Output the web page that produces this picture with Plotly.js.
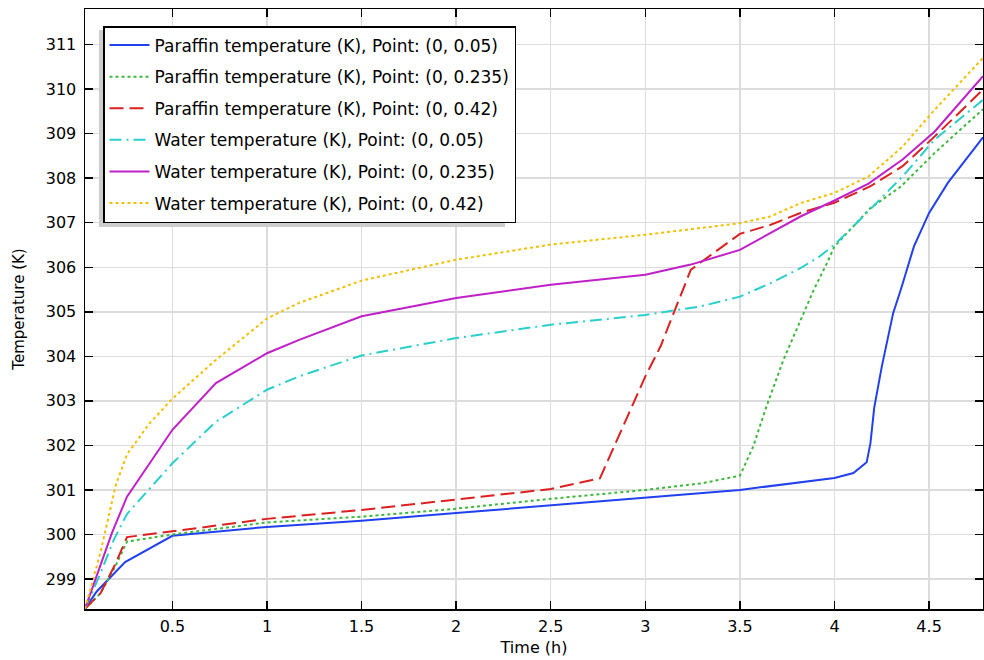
<!DOCTYPE html>
<html>
<head>
<meta charset="utf-8">
<script src="https://cdn.plot.ly/plotly-3.0.1.min.js"></script>
<style>html,body{margin:0;padding:0;background:#fff;}#chart{width:984px;height:660px;}</style>
</head>
<body>
<div id="chart"></div>
<script>
// Series names
const seriesNames = [
  "Paraffin temperature (K), Point: (0, 0.05)",
  "Paraffin temperature (K), Point: (0, 0.235)",
  "Paraffin temperature (K), Point: (0, 0.42)",
  "Water temperature (K), Point: (0, 0.05)",
  "Water temperature (K), Point: (0, 0.235)",
  "Water temperature (K), Point: (0, 0.42)"
];

// Paraffin (0, 0.05)
const tP005 = [0.038, 0.1, 0.25, 0.5, 1.0, 1.5, 2.0, 2.5, 3.0, 3.5, 4.0, 4.1, 4.17, 4.19, 4.21, 4.25, 4.31, 4.35, 4.42, 4.5, 4.6, 4.7, 4.785];
const TP005 = [298.33, 298.72, 299.38, 299.97, 300.17, 300.31, 300.48, 300.65, 300.82, 301.0, 301.27, 301.38, 301.62, 302.05, 302.85, 303.77, 304.97, 305.49, 306.47, 307.22, 307.9, 308.45, 308.92];

// Paraffin (0, 0.235)
const tP0235 = [0.038, 0.12, 0.2, 0.26, 0.5, 1.0, 1.5, 2.0, 2.5, 3.0, 3.3, 3.5, 3.57, 3.64, 3.73, 3.82, 3.89, 3.96, 4.0, 4.1, 4.19, 4.35, 4.53, 4.785];
const TP0235 = [298.33, 298.68, 299.3, 299.84, 300.0, 300.27, 300.4, 300.58, 300.8, 301.0, 301.15, 301.32, 301.97, 302.87, 303.92, 304.82, 305.49, 306.09, 306.47, 306.92, 307.33, 307.81, 308.57, 309.55];

// Paraffin (0, 0.42)
const tP042 = [0.038, 0.12, 0.2, 0.26, 0.5, 1.0, 1.5, 2.0, 2.5, 2.76, 2.86, 3.0, 3.08, 3.15, 3.24, 3.29, 3.36, 3.5, 3.66, 3.82, 4.0, 4.19, 4.36, 4.53, 4.785];
const TP042 = [298.33, 298.68, 299.35, 299.94, 300.07, 300.35, 300.55, 300.78, 301.02, 301.26, 302.2, 303.55, 304.22, 304.97, 305.94, 306.1, 306.32, 306.75, 306.95, 307.22, 307.45, 307.82, 308.27, 308.94, 309.99];

// Water (0, 0.05)
const tW005 = [0.038, 0.12, 0.19, 0.26, 0.5, 0.73, 1.0, 1.17, 1.5, 2.0, 2.5, 3.0, 3.29, 3.5, 3.66, 3.82, 3.92, 4.0, 4.1, 4.19, 4.36, 4.53, 4.785];
const TW005 = [298.33, 299.13, 299.88, 300.46, 301.6, 302.53, 303.25, 303.55, 304.02, 304.41, 304.71, 304.93, 305.12, 305.34, 305.64, 305.98, 306.24, 306.51, 306.92, 307.3, 308.04, 308.87, 309.76];

// Water (0, 0.235)
const tW0235 = [0.038, 0.12, 0.18, 0.26, 0.5, 0.73, 1.0, 1.17, 1.5, 2.0, 2.5, 3.0, 3.24, 3.5, 3.66, 3.82, 4.0, 4.18, 4.36, 4.53, 4.785];
const TW0235 = [298.33, 299.3, 300.03, 300.85, 302.35, 303.4, 304.07, 304.37, 304.9, 305.31, 305.61, 305.83, 306.06, 306.39, 306.77, 307.14, 307.5, 307.88, 308.42, 309.05, 310.29];

// Water (0, 0.42)
const tW042 = [0.038, 0.12, 0.2, 0.26, 0.38, 0.5, 0.73, 1.0, 1.17, 1.5, 2.0, 2.5, 3.0, 3.29, 3.5, 3.66, 3.82, 4.0, 4.18, 4.36, 4.53, 4.785];
const TW042 = [298.33, 299.6, 301.1, 301.8, 302.5, 303.05, 303.92, 304.85, 305.2, 305.7, 306.17, 306.51, 306.73, 306.88, 306.99, 307.14, 307.44, 307.67, 308.04, 308.71, 309.54, 310.7];

const xs = [tP005, tP0235, tP042, tW005, tW0235, tW042];
const ys = [TP005, TP0235, TP042, TW005, TW0235, TW042];
const colors = ['#2140f0', '#3cb83c', '#dc2020', '#28cfcc', '#c020c8', '#f2c000'];
const dashes = ['solid', 'dot', '14px,6px', '12px,5px,2px,5px', 'solid', 'dot'];

const traces = xs.map((x, i) => ({
  x: x, y: ys[i], type: 'scatter', mode: 'lines', name: seriesNames[i],
  legendgroup: 'g' + i,
  line: {color: colors[i], width: 2, dash: dashes[i]}
}));

const L = 85, R = 983, T = 9, B = 609;
const W = R - L, H = B - T;
function px(x){ return (x - L) / W; }
function py(y){ return (B - y) / H; }

const layout = {
  width: 984, height: 660,
  margin: {l: L, r: 984 - R, t: T, b: 660 - B},
  paper_bgcolor: '#ffffff', plot_bgcolor: '#ffffff',
  font: {family: 'DejaVu Sans, sans-serif', color: '#000', size: 16},
  showlegend: true,
  legend: {
    x: px(103), y: py(26), xanchor: 'left', yanchor: 'top',
    bgcolor: '#ffffff', bordercolor: '#000', borderwidth: 1.5,
    font: {size: 17, family: 'DejaVu Sans, sans-serif', color: '#000'},
    traceorder: 'grouped', tracegroupgap: 6.5, itemwidth: 40
  },
  shapes: [{
    type: 'rect', xref: 'paper', yref: 'paper',
    x0: px(99), x1: px(505), y0: py(30), y1: py(227),
    fillcolor: '#cdcdcd', line: {width: 0}, layer: 'above'
  }],
  xaxis: {
    range: [0.038, 4.785], dtick: 0.5, tick0: 0,
    showgrid: true, gridcolor: '#dcdcdc', gridwidth: 1.5,
    zeroline: false, showline: true, linecolor: '#000', linewidth: 1.5,
    mirror: 'ticks', ticks: 'inside', ticklen: 8, tickwidth: 1.5, tickcolor: '#000',
    tickfont: {size: 16}, ticklabelstandoff: 2,
    title: {text: 'Time (h)', font: {size: 16}, standoff: 7},
    automargin: false
  },
  yaxis: {
    range: [298.326, 311.8], dtick: 1, tick0: 0,
    showgrid: true, gridcolor: '#dcdcdc', gridwidth: 1.5,
    zeroline: false, showline: true, linecolor: '#000', linewidth: 1.5,
    mirror: 'ticks', ticks: 'inside', ticklen: 8, tickwidth: 1.5, tickcolor: '#000',
    tickfont: {size: 16}, ticklabelstandoff: 4,
    title: {text: 'Temperature (K)', font: {size: 15}, standoff: 17},
    automargin: false
  }
};

Plotly.newPlot('chart', traces, layout, {displayModeBar: false, staticPlot: true});
</script>
</body>
</html>
